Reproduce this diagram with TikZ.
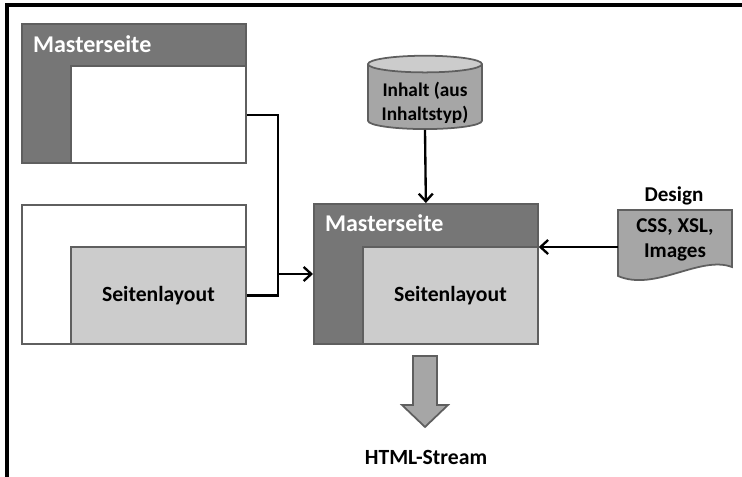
\documentclass[tikz,border=0pt]{standalone}
\usepackage{fontspec}
\setmainfont{Carlito}
\usepackage{tikz}
\usetikzlibrary{arrows.meta,positioning,shapes.geometric}

\definecolor{darkpage}{HTML}{767676}
\definecolor{lightpage}{HTML}{CCCCCC}
\definecolor{midgray}{HTML}{A6A6A6}
\definecolor{edgegray}{HTML}{5F5F5F}

\begin{document}
\begin{tikzpicture}[x=0.03cm, y=-0.03cm,
	page/.style={draw=edgegray, line width=1.5pt, inner sep=0pt, anchor=north west},
	inpage/.style={draw=edgegray, line width=1.5pt, inner sep=0pt, anchor=south east,
		minimum width=5.25cm, minimum height=2.9cm, font=\bfseries\fontsize{18.5}{20}\selectfont},
	title/.style={anchor=west, text=white, font=\bfseries\fontsize{20.5}{22}\selectfont},
	arr/.style={-{Straight Barb[length=6.5pt, width=12pt]}, line width=2pt},
	con/.style={line width=2pt}
]
	\useasboundingbox (0,0) rectangle (742,477);

	% frame
	\draw[line width=2.6pt] (7,477) -- (7,5) -- (742,5);

	% Masterseite on the left
	\node[page, fill=darkpage, minimum width=6.72cm, minimum height=4.17cm] (ms) at (21,23) {};
	\node[inpage, fill=white] (msin) at (ms.south east) {};
	\node[title] (mstitle) at (29,44) {Masterseite};

	% Seitenlayout on the left
	\node[page, fill=white, minimum width=6.72cm, minimum height=4.17cm] (sl) at (21,204) {};
	\node[inpage, fill=lightpage] (slin) at (sl.south east) {Seitenlayout};

	% resulting page
	\node[page, fill=darkpage, minimum width=6.72cm, minimum height=4.2cm] (res) at (313,203) {};
	\node[inpage, fill=lightpage] (resin) at (res.south east) {Seitenlayout};
	\node[title] (restitle) at (321,223) {Masterseite};

	% content
	\node[cylinder, shape border rotate=90, aspect=0.2, draw=edgegray, line width=1.5pt,
		cylinder uses custom fill, cylinder body fill=midgray, cylinder end fill=lightpage,
		minimum width=3.42cm, minimum height=2.2cm, inner sep=0pt] (inhalt) at (425,97)
		{\hspace*{2.5cm}};
	\node[align=center, font=\bfseries\fontsize{16.5}{21}\selectfont] (inhalttext) at (425,103)
		{Inhalt (aus\\Inhaltstyp)};

	% design
	\coordinate (dnw) at (618,210);
	\draw[draw=edgegray, fill=midgray, line width=1.5pt]
		(dnw) -- (732,210) -- (732,267)
		.. controls (700,255) and (655,292) .. (618,276) -- cycle;
	\node[align=center, font=\bfseries\fontsize{18}{21}\selectfont] (design) at (675,240)
		{CSS, XSL,\\Images};
	\node[font=\bfseries\fontsize{18}{20}\selectfont] (designlbl) at (674,196) {Design};

	% connectors
	\coordinate (join) at (278,274);
	\draw[con] (msin.east |- 0,115) -| (join);
	\draw[con] (slin.east) -| (join);
	\draw[arr] (join) -- (res.west |- join);
	\draw[arr] (inhalt.bottom) -- (res.north);
	\draw[arr] (dnw |- 0,247) -- (res.east |- 0,247);

	% output
	\draw[draw=edgegray, fill=midgray, line width=1.5pt]
		(413,356) -- (437,356) -- (437,405) -- (448,405) -- (425,427)
		-- (402,405) -- (413,405) -- cycle;
	\node[font=\bfseries\fontsize{18.5}{20}\selectfont] (html) at (426,457) {HTML-Stream};
\end{tikzpicture}
\end{document}
